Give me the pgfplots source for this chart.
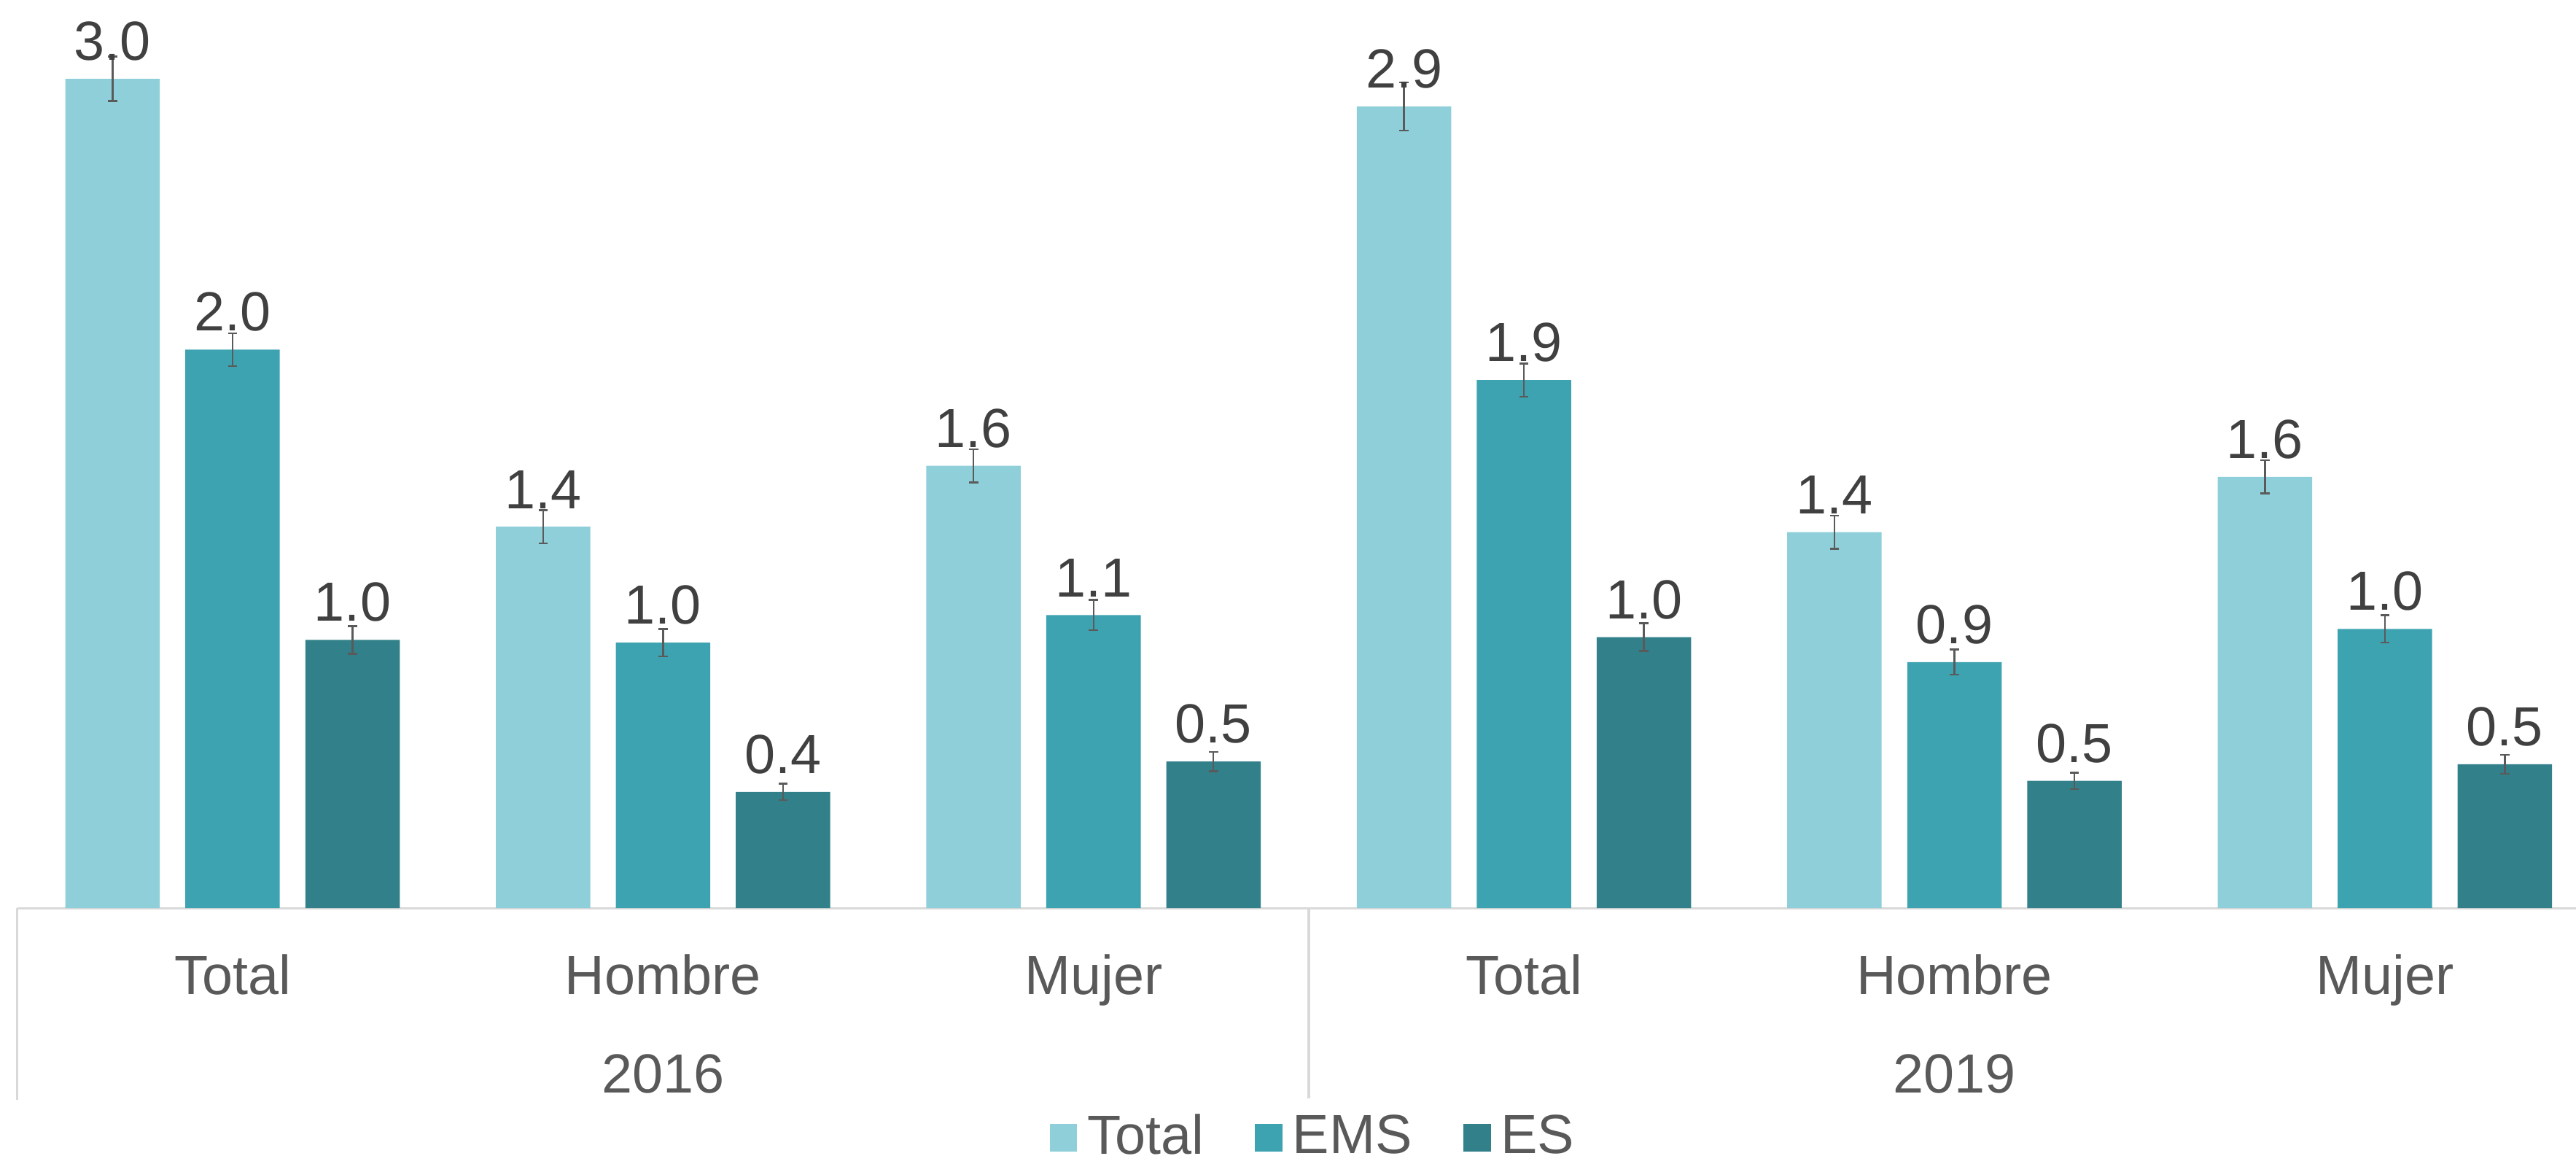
\documentclass[border=0pt]{standalone}
\usepackage{fontspec}
\setmainfont{Liberation Sans}
\usepackage{pgfplots}
\pgfplotsset{compat=1.18}

\definecolor{cTotal}{HTML}{8ECFD9}
\definecolor{cEMS}{HTML}{3EA3B1}
\definecolor{cES}{HTML}{32808A}
\definecolor{lblgray}{HTML}{404040}
\definecolor{txtgray}{HTML}{595959}
\definecolor{linegray}{HTML}{D9D9D9}
\definecolor{errgray}{HTML}{5A5A5A}

\newcommand{\chartfont}{\fontsize{10.8}{13}\selectfont}

\pgfplotsset{
    errbars/.style={
        error bars/.cd, y dir=both, y explicit,
        error bar style={errgray, line width=0.35pt},
        error mark options={rotate=90, mark size=0.9pt, errgray, line width=0.35pt},
    },
}

\begin{document}
\begin{tikzpicture}
\begin{axis}[
    x=84.33pt, y=54.14pt,
    xmin=-0.5, xmax=5.444,
    ymin=0, ymax=3.285,
    enlargelimits=false,
    clip=false,
    ybar,
    bar width=18.5pt,
    axis y line=none,
    axis x line*=bottom,
    x axis line style={linegray, line width=0.45pt, -},
    xtick={0,1,2,3,4,5},
    xticklabels={Total,Hombre,Mujer,Total,Hombre,Mujer},
    major tick length=0pt,
    xticklabel style={anchor=base, yshift=-16.9pt, text=txtgray, font=\chartfont},
    /pgf/number format/assume math mode=true,
    nodes near coords,
    nodes near coords style={text=lblgray, font=\chartfont,
        /pgf/number format/.cd, fixed, fixed zerofill, precision=1},
    legend style={at={(0.508,0)}, anchor=center, yshift=-45pt, draw=none,
        font=\chartfont, text=txtgray, legend columns=-1, inner sep=1pt,
        /tikz/every even column/.append style={column sep=8pt}},
    legend image code/.code={\fill[#1] (0pt,-2.7pt) rectangle (5.4pt,2.7pt);},
]
% Total
\addplot[fill=cTotal, draw=none, bar shift=-23.5pt, errbars] coordinates {
    (0,3.00) +- (0,0.080)
    (1,1.38) +- (0,0.060)
    (2,1.60) +- (0,0.060)
    (3,2.90) +- (0,0.087)
    (4,1.36) +- (0,0.060)
    (5,1.56) +- (0,0.060)
};
% EMS
\addplot[fill=cEMS, draw=none, bar shift=0pt, errbars] coordinates {
    (0,2.02) +- (0,0.060)
    (1,0.96) +- (0,0.050)
    (2,1.06) +- (0,0.055)
    (3,1.91) +- (0,0.060)
    (4,0.89) +- (0,0.045)
    (5,1.01) +- (0,0.050)
};
% ES
\addplot[fill=cES, draw=none, bar shift=23.5pt, errbars] coordinates {
    (0,0.97) +- (0,0.050)
    (1,0.42) +- (0,0.030)
    (2,0.53) +- (0,0.035)
    (3,0.98) +- (0,0.050)
    (4,0.46) +- (0,0.030)
    (5,0.52) +- (0,0.035)
};
\legend{Total,EMS,ES}

% group separators and year labels
\draw[linegray, line width=0.45pt] (axis cs:-0.5,0) -- ++(0pt,-37.6pt);
\draw[linegray, line width=0.45pt] (axis cs:2.5,0) -- ++(0pt,-37.6pt);
\node[anchor=base, yshift=-36.15pt, text=txtgray, font=\chartfont] at (axis cs:1,0) {2016};
\node[anchor=base, yshift=-36.15pt, text=txtgray, font=\chartfont] at (axis cs:4,0) {2019};

\coordinate (bbA) at (axis cs:-0.5,0);
\coordinate (bbB) at (axis cs:5.444,3.285);
\end{axis}
\pgfresetboundingbox
\path[use as bounding box] ([xshift=-3.4pt,yshift=-50.1pt]bbA) rectangle (bbB);
\end{tikzpicture}
\end{document}
